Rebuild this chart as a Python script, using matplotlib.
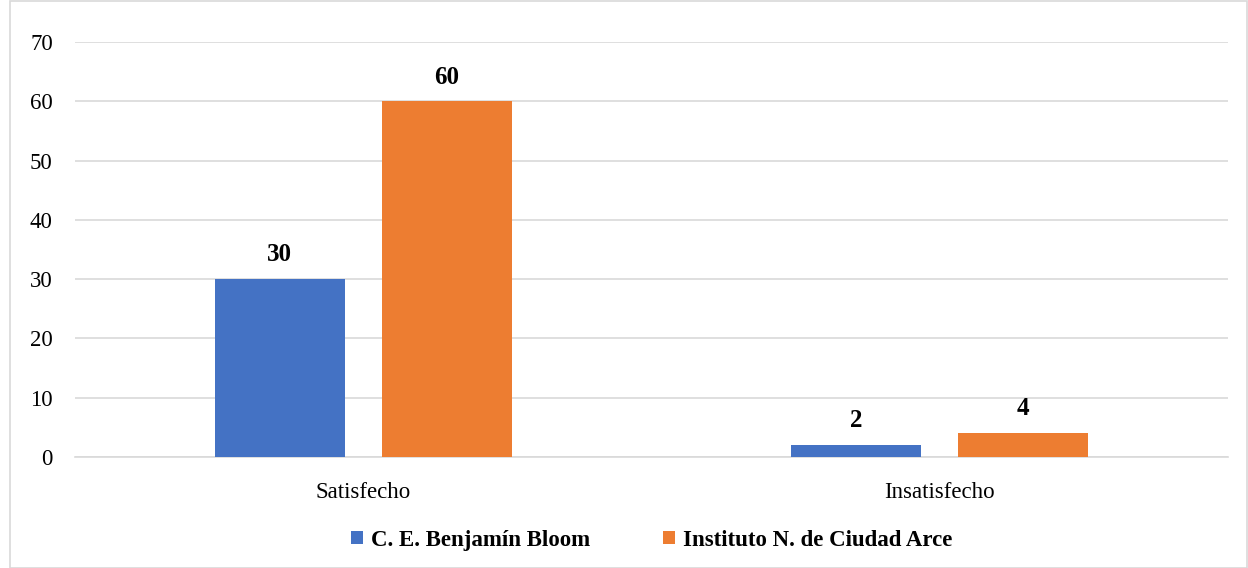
import numpy as np
import matplotlib.pyplot as plt
from matplotlib.patches import Rectangle

categories = ["Satisfecho", "Insatisfecho"]
series_names = ["C. E. Benjamín Bloom", "Instituto N. de Ciudad Arce"]
bloom = [30, 2]
arce = [60, 4]
colors = ["#4472C4", "#ED7D31"]

plt.rcParams["font.family"] = ["Liberation Serif", "DejaVu Serif"]

fig = plt.figure(figsize=(12.48, 5.68), dpi=100)
ax = fig.add_axes([0.0601, 0.1954, 0.9239, 0.7306])

# light border around the whole chart area
fig.patches.append(Rectangle((10 / 1248, 0.0), 1 - 11 / 1248, 0.998,
                             transform=fig.transFigure, fill=False,
                             edgecolor="#d9d9d9", linewidth=1.2))

x = np.arange(len(categories))
width = 0.2255
offset = 0.145

for vals, off, col, name in zip([bloom, arce], [-offset, offset], colors, series_names):
    bars = ax.bar(x + off, vals, width, color=col, label=name, zorder=3)
    for b, v in zip(bars, vals):
        ax.text(b.get_x() + b.get_width() / 2, v + 4.1, str(v),
                ha="center", va="center", fontsize=18, fontweight="bold")

ax.set_xlim(-0.5, 1.5)
ax.set_ylim(0, 70)
ax.set_yticks(range(0, 71, 10))
ax.set_xticks(x)
ax.set_xticklabels(categories)
ax.tick_params(axis="both", length=0, labelsize=16.5)
ax.tick_params(axis="y", pad=16)
ax.tick_params(axis="x", pad=18)
ax.grid(axis="y", color="#d9d9d9", linewidth=1.2, zorder=0)
for s in ["top", "right", "left"]:
    ax.spines[s].set_visible(False)
ax.spines["bottom"].set_color("#d9d9d9")
ax.spines["bottom"].set_linewidth(1.2)

ax.legend(loc="center", bbox_to_anchor=(0.5, -0.2), ncol=2, frameon=False,
          prop={"weight": "bold", "size": 16.5}, handlelength=0.5, handleheight=0.5,
          handletextpad=0.35, columnspacing=3.2)

fig.savefig("out.png", dpi=100)
